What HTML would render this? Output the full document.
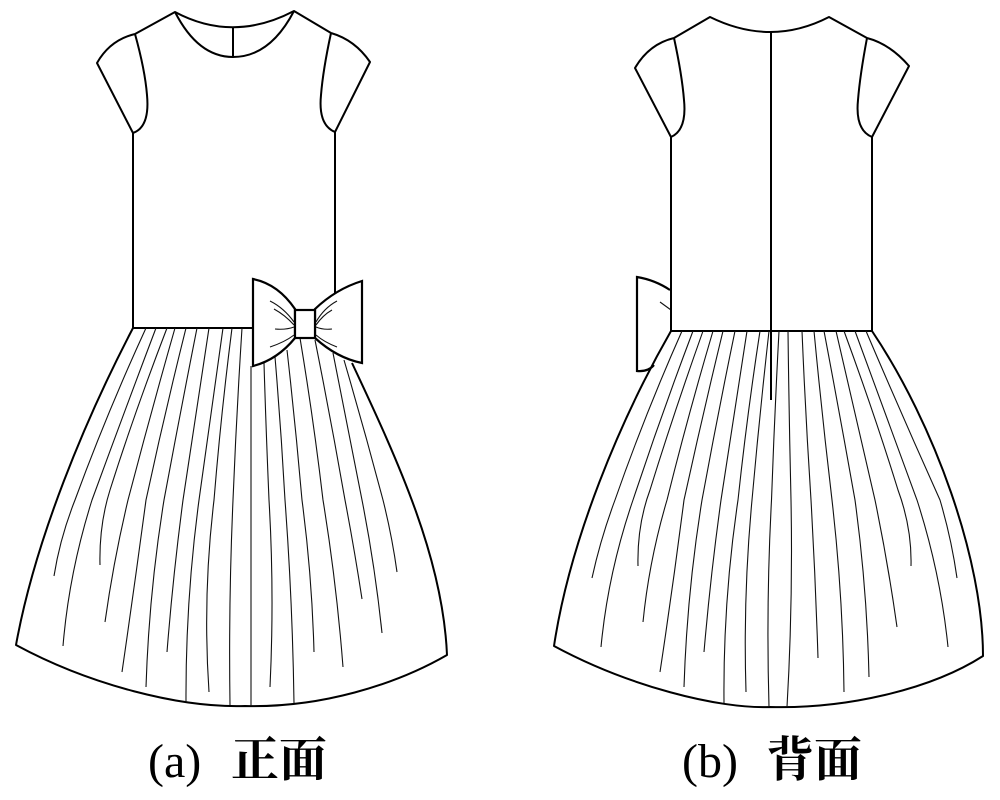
<!DOCTYPE html>
<html lang="zh">
<head>
<meta charset="utf-8">
<title>Dress</title>
<style>
html,body{margin:0;padding:0;background:#fff}
svg{display:block}
.o{fill:none;stroke:#000;stroke-width:2;stroke-linejoin:round}
.p{fill:none;stroke:#111;stroke-width:1.1}
.w{fill:#fff;stroke:#000;stroke-width:2.2;stroke-linejoin:miter}
.l{font-family:"Liberation Serif",serif;font-size:48px;fill:#000}
.c{font-family:"Liberation Serif","Noto Serif CJK SC",serif;font-size:48px;font-weight:700;fill:#000}
</style>
</head>
<body>
<svg width="1000" height="800" viewBox="0 0 1000 800" xmlns="http://www.w3.org/2000/svg">
<rect width="1000" height="800" fill="#fff"/>

<!-- FRONT -->
<path class="o" d="M135,34 L175,12 Q233,43 294,11 L331,33"/>
<path class="o" d="M175,12 Q198,57 233,57 Q270,57 294,11"/>
<path class="o" d="M233,27 V57"/>
<path class="o" d="M135,34 Q110,40 97,63 L133,133 Q150,127 147,95 Q145,70 135,34"/>
<path class="o" d="M331,33 Q355,40 370,62 L335,132 Q318,125 321,95 Q323,70 331,33"/>
<path class="o" d="M133,133 V328 H252"/>
<path class="o" d="M335,132 V293"/>
<path class="o" d="M133,328 C85,420 35,540 16,645 C90,685 180,708 245,706 C320,708 395,685 447,655 C443,560 400,465 352,363"/>

<g class="p">
<path d="M146,328 Q106.500,414 75,500 Q60,538 54,576"/>
<path d="M156,328 Q123.500,414 92,500 Q69,573 63,646"/>
<path d="M167,328 Q134,414 110,490 Q99,525 100,565"/>
<path d="M175,328 Q150.500,414 128,500 Q113.500,561 105,622"/>
<path d="M186,328 Q164.500,414 146,500 Q134.500,586 122,672"/>
<path d="M197,328 Q180,414 164,500 Q149,593 146,687"/>
<path d="M209,328 Q196,414 183,500 Q173,576 167,652"/>
<path d="M223,328 Q211,414 199,500 Q185.500,601 186,702"/>
<path d="M232,328 Q221,414 214,500 Q202.500,596 209,692"/>
<path d="M242,328 Q236.500,414 233,500 Q228.500,602 230,705"/>
<path d="M251,366 V706"/>
<path d="M264,363 Q266,430 269,500 Q274.500,593 270,687"/>
<path d="M275,357 Q281,428 285,500 Q292.500,601 294,703"/>
<path d="M287,350 Q295.500,425 302,500 Q312,576 314,652"/>
<path d="M300,338 Q313.500,419 323,500 Q336.500,583 343,667"/>
<path d="M315,340 Q331,420 345,500 Q354.500,550 362,599"/>
<path d="M333,353 Q347.500,426 362,500 Q375,566 382,633"/>
<path d="M344,360 Q364.500,430 383,500 Q392,536 397,572"/>
</g>

<!-- Bow -->
<path class="w" d="M253,279 Q278,284 295,309 V338 Q277,360 253,366 Z"/>
<path class="w" d="M362,281 Q336,289 315,309 V338 Q337,358 362,363 Z"/>
<rect class="w" x="295" y="310" width="20" height="28"/>
<g class="p">
<path d="M270,301 Q284,308 294,322"/>
<path d="M274,309 Q285,315 294,325"/>
<path d="M275,329 Q286,330 294,327"/>
<path d="M270,347 Q285,342 294,335"/>
<path d="M337,301 Q324,308 316,322"/>
<path d="M332,310 Q323,315 316,325"/>
<path d="M332,329 Q323,330 316,327"/>
<path d="M337,347 Q324,342 316,335"/>
</g>

<!-- BACK -->
<path class="w" d="M670,290 Q655,280 637,277 L637,371 Q648,372 654,365" style="fill:none"/>
<path class="p" d="M660,302 L671,310"/>
<path class="o" d="M674,38 L710,17 Q771,47 829,17 L867,38"/>
<path class="o" d="M771,32 V400"/>
<path class="o" d="M674,38 Q649,44 635,68 L671,137 Q687,130 684,100 Q682,75 674,38"/>
<path class="o" d="M867,38 Q890,44 909,66 L872,137 Q855,130 858,100 Q860,75 867,38"/>
<path class="o" d="M671,137 V331 H872 V137"/>
<path class="o" d="M671,331 C620,420 570,540 554,646 C628,686 718,709 770,707 C845,709 930,690 983,656 C983,560 935,425 872,331"/>

<g class="p">
<path d="M682,331 Q644.500,415.500 615,500 Q600.500,539 592,578"/>
<path d="M693,331 Q661,415.500 633,500 Q608,573 601,647"/>
<path d="M703,331 Q673,415.500 650,490 Q637,525 638,566"/>
<path d="M713,331 Q688,415.500 667,500 Q649,561 643,622"/>
<path d="M723,331 Q702.500,415.500 684,500 Q673,586 660,672"/>
<path d="M735,331 Q717.500,415.500 702,500 Q687,593 684,687"/>
<path d="M747,331 Q734,415.500 721,500 Q710.500,576 704,652"/>
<path d="M760,331 Q747,415.500 738,500 Q723,601 724,703"/>
<path d="M769,331 Q759.500,415.500 752,500 Q743,596 746,692"/>
<path d="M779,331 Q774.500,415.500 771.500,500 Q766,603 769,707"/>
<path d="M788,331 Q789,415.500 791,500 Q793,603 787,707"/>
<path d="M802,331 Q805.500,415.500 811,500 Q815.500,579 818,658"/>
<path d="M814,331 Q822,415.500 832,500 Q843,596 844,692"/>
<path d="M824,331 Q840,415.500 855,500 Q867,588 869,677"/>
<path d="M836,331 Q855.500,415.500 875,500 Q888,563 897,627"/>
<path d="M844,331 Q875,415.500 898,490 Q912,528 911,566"/>
<path d="M855,331 Q886,415.500 917,500 Q940.500,573 948,647"/>
<path d="M866,331 Q902,415.500 940,500 Q951.500,539 957,578"/>
</g>

<!-- Captions -->
<text class="l" x="148" y="777">(a)</text>
<text class="c" x="231" y="776">正面</text>
<text class="l" x="682" y="777">(b)</text>
<text class="c" x="766" y="776">背面</text>
</svg>
</body>
</html>
